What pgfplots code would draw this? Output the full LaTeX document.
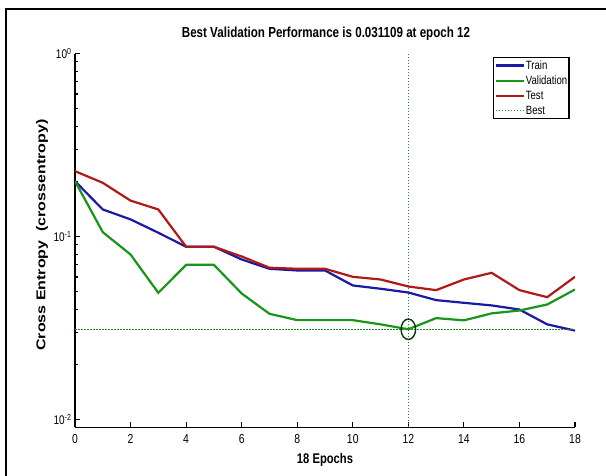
\documentclass[border=0pt]{standalone}
\usepackage{fontspec}
\setmainfont{Liberation Sans}
\newfontfamily\cond{Liberation Sans}[FakeStretch=0.8]
\usepackage{graphicx}
\usepackage{pgfplots}
\pgfplotsset{compat=1.18}
\definecolor{ctrain}{RGB}{25,25,165}
\definecolor{cval}{RGB}{25,150,25}
\definecolor{ctest}{RGB}{175,25,25}
\definecolor{cbest}{RGB}{30,140,30}
\definecolor{ccirc}{RGB}{15,55,15}
\begin{document}
\begin{tikzpicture}[x=1pt,y=1pt]
\useasboundingbox (0,0) rectangle (606,475);
\fill[white] (0,0) rectangle (606,475);
\draw[line width=2.5pt] (6,-5) -- (6,466) -- (620,466);
\begin{axis}[
  at={(75pt,47.7pt)}, anchor=south west,
  scale only axis, width=500pt, height=373.8pt,
  xmin=0, xmax=18, ymode=log, ymin=0.00906, ymax=1,
  axis x line*=bottom, axis y line*=left,
  axis line style={line width=1.5pt},
  tick align=inside,
  major tick length=5pt, minor tick length=3pt,
  every tick/.style={black, line width=1.2pt},
  xtick={0,2,4,6,8,10,12,14,16,18},
  xticklabels={0,2,4,6,8,10,12,14,16,18},
  ytick={0.01,0.1,1},
  yticklabels={{10\textsuperscript{-2}},{10\textsuperscript{-1}},{10\textsuperscript{0}}},
  minor ytick={0.02,0.03,0.04,0.05,0.06,0.07,0.08,0.09,0.2,0.3,0.4,0.5,0.6,0.7,0.8,0.9},
  xticklabel style={font=\cond\fontsize{13}{14}\selectfont, yshift=-3.5pt},
  yticklabel style={font=\cond\fontsize{12.5}{13}\selectfont},
  title={\cond\bfseries Best Validation Performance is 0.031109 at epoch 12},
  title style={at={(axis description cs:0.502,1.036)}, anchor=center, font=\fontsize{14.5}{16}\selectfont},
  xlabel={\cond\bfseries 18 Epochs},
  xlabel style={at={(axis description cs:0.5,-0.0875)}, anchor=center, font=\fontsize{14}{15}\selectfont},
  ylabel={\scalebox{1}[0.8]{\bfseries Cross Entropy\ \ (crossentropy)}},
  ylabel style={at={(axis description cs:-0.066,0.514)}, anchor=center, font=\fontsize{16}{17}\selectfont},
  legend style={at={(axis description cs:0.836,0.991)}, anchor=north west,
    draw=black, line width=1.3pt, fill=white,
    font=\cond\fontsize{12}{13}\selectfont,
    inner xsep=1pt, inner ysep=2pt, row sep=3.5pt,
    nodes={inner sep=0.8pt, anchor=west}},
  legend cell align=left,
]
\addplot[ctrain, line width=2.2pt,
  legend image code/.code={\draw[ctrain, line width=2.4pt] (0pt,0pt) -- (28pt,0pt);}] coordinates {
(0,0.2005) (1,0.1405) (2,0.124) (3,0.1048) (4,0.0879) (5,0.0879) (6,0.0749)
(7,0.0666) (8,0.0652) (9,0.0652) (10,0.054) (11,0.0518) (12,0.0494) (13,0.0449)
(14,0.0434) (15,0.0420) (16,0.0399) (17,0.0331) (18,0.0306)};
\addlegendentry{Train}
\addplot[cval, line width=2.2pt,
  legend image code/.code={\draw[cval, line width=2.4pt] (0pt,0pt) -- (28pt,0pt);}] coordinates {
(0,0.2005) (1,0.1056) (2,0.0797) (3,0.0492) (4,0.070) (5,0.070) (6,0.0488)
(7,0.0378) (8,0.0349) (9,0.0349) (10,0.0349) (11,0.0331) (12,0.031109) (13,0.0358)
(14,0.0348) (15,0.0380) (16,0.0394) (17,0.0425) (18,0.0513)};
\addlegendentry{Validation}
\addplot[ctest, line width=2.2pt,
  legend image code/.code={\draw[ctest, line width=2.4pt] (0pt,0pt) -- (28pt,0pt);}] coordinates {
(0,0.2275) (1,0.1965) (2,0.157) (3,0.1405) (4,0.0879) (5,0.0879) (6,0.0778)
(7,0.0675) (8,0.0666) (9,0.0666) (10,0.0602) (11,0.0582) (12,0.0533) (13,0.0509)
(14,0.0582) (15,0.0633) (16,0.0509) (17,0.0466) (18,0.0602)};
\addlegendentry{Test}
\addplot[draw=cbest, color=cbest, line width=1.3pt, dash pattern=on 1.5pt off 1.5pt,
  legend image code/.code={\draw[draw=cbest, line width=1.3pt, dash pattern=on 1.5pt off 1.5pt] (0pt,0pt) -- (28pt,0pt);}] coordinates {(0,0.031109) (18,0.031109)};
\addlegendentry{Best}
\addplot[draw=cbest, color=cbest, line width=1.2pt, dash pattern=on 1.5pt off 1.5pt, forget plot] coordinates {(12,0.00906) (12,1)};
\addplot[only marks, mark=o, mark size=7.3pt, mark options={yscale=1.4, line width=1.4pt, draw=ccirc}, forget plot] coordinates {(12,0.031109)};
\end{axis}
\end{tikzpicture}
\end{document}
